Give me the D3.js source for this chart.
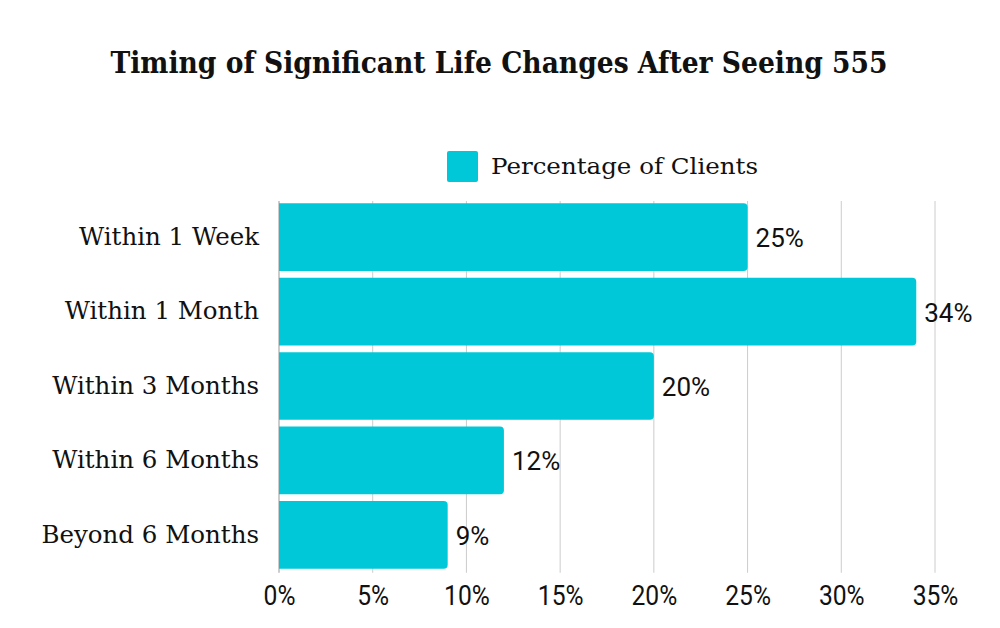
<!DOCTYPE html>
<html>
<head>
<meta charset="utf-8">
<script src="https://cdn.jsdelivr.net/npm/d3@7"></script>
<style>
  html, body { margin: 0; padding: 0; background: #fff; }
  svg { display: block; }
</style>
</head>
<body>
<svg id="chart" width="1000" height="628"></svg>
<script>
const title = "Timing of Significant Life Changes After Seeing 555";
const seriesName = "Percentage of Clients";
const categories = ["Within 1 Week", "Within 1 Month", "Within 3 Months", "Within 6 Months", "Beyond 6 Months"];
const values = [25, 34, 20, 12, 9];
const tickValues = [0, 5, 10, 15, 20, 25, 30, 35];

const color = "#00c8d8";
const svg = d3.select("#chart");
const W = 1000, H = 628;
const margin = { left: 279, right: 65, top: 201, bottom: 57 };

const x = d3.scaleLinear().domain([0, 35]).range([margin.left, W - margin.right]);
const y = d3.scaleBand().domain(categories).range([margin.top, H - margin.bottom]).paddingInner(0.09).paddingOuter(0.03);

svg.append("rect").attr("width", W).attr("height", H).attr("fill", "#fff");

// Title
svg.append("text")
  .attr("x", 499).attr("y", 73)
  .attr("text-anchor", "middle")
  .attr("font-family", "'DejaVu Serif', serif")
  .attr("font-weight", "bold")
  .attr("font-size", 29)
  .attr("textLength", 777).attr("lengthAdjust", "spacingAndGlyphs")
  .attr("fill", "#111")
  .text(title);

// Legend
const lg = svg.append("g");
lg.append("rect").attr("x", 447).attr("y", 151).attr("width", 31).attr("height", 31).attr("rx", 2).attr("fill", color);
lg.append("text").attr("x", 491).attr("y", 174)
  .attr("font-family", "'DejaVu Serif', serif").attr("font-size", 23)
  .attr("textLength", 267).attr("lengthAdjust", "spacingAndGlyphs")
  .attr("fill", "#111").text(seriesName);

// Gridlines
const gridBottom = y(categories[categories.length - 1]) + y.bandwidth() + 4;
svg.append("g").selectAll("line").data(tickValues).join("line")
  .attr("x1", d => x(d)).attr("x2", d => x(d))
  .attr("y1", margin.top).attr("y2", gridBottom)
  .attr("stroke", d => d === 0 ? "#999" : "#ccc").attr("stroke-width", 1);

// Bars with right-rounded corners
const r = 4;
function barPath(x0, x1, y0, h) {
  const rr = Math.min(r, (x1 - x0) / 2);
  return `M${x0},${y0}H${x1 - rr}Q${x1},${y0} ${x1},${y0 + rr}V${y0 + h - rr}Q${x1},${y0 + h} ${x1 - rr},${y0 + h}H${x0}Z`;
}
svg.append("g").selectAll("path").data(categories).join("path")
  .attr("d", (c, i) => barPath(x(0), x(values[i]), y(c), y.bandwidth()))
  .attr("fill", color);

// Value labels
svg.append("g").selectAll("text").data(categories).join("text")
  .attr("x", (c, i) => x(values[i]) + 8)
  .attr("y", c => y(c) + y.bandwidth() / 2 + 10)
  .attr("font-family", "Roboto, sans-serif").attr("font-size", 26)
  .attr("fill", "#111")
  .text((c, i) => values[i] + "%");

// Category labels (y axis)
const yAxis = d3.axisLeft(y).tickSize(0).tickPadding(20);
const yg = svg.append("g").attr("transform", `translate(${margin.left},0)`).call(yAxis);
yg.select(".domain").remove();
yg.selectAll("text")
  .attr("font-family", "'DejaVu Serif', serif").attr("font-size", 24.5)
  .attr("fill", "#111").attr("dy", "0.32em");

// X axis
const xAxis = d3.axisBottom(x).tickValues(tickValues).tickSize(0).tickPadding(0).tickFormat(d => d + "%");
const xg = svg.append("g").attr("transform", `translate(0,${H - 23})`).call(xAxis);
xg.select(".domain").remove();
xg.selectAll("text")
  .attr("font-family", "Roboto, sans-serif").attr("font-size", 28)
  .attr("fill", "#111").attr("dy", 0)
  .each(function() {
    const n = this.getComputedTextLength();
    d3.select(this).attr("textLength", n * 0.88).attr("lengthAdjust", "spacingAndGlyphs");
  });
</script>
</body>
</html>
